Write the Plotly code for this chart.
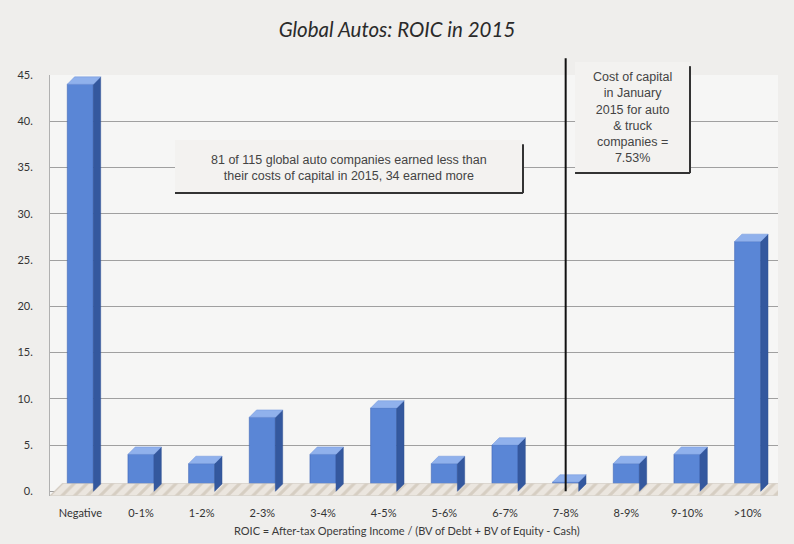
import plotly.graph_objects as go

categories = ["Negative", "0-1%", "1-2%", "2-3%", "3-4%", "4-5%", "5-6%", "6-7%", "7-8%", "8-9%", "9-10%", ">10%"]
counts = [44, 4, 3, 8, 4, 9, 3, 5, 1, 3, 4, 27]
y_tick_vals = [0, 5, 10, 15, 20, 25, 30, 35, 40, 45]
y_tick_text = ["0.", "5.", "10.", "15.", "20.", "25.", "30.", "35.", "40.", "45."]
cost_of_capital_bin = 8  # index of "7-8%"

xs = list(range(len(categories)))
half = 0.215   # half width of front face
dx, dy = 0.12, 0.8  # 3D depth offset

# side & top faces of the 3D bars, derived from the data
side_x, side_y, top_x, top_y = [], [], [], []
for i, v in zip(xs, counts):
    side_x += [i + half, i + half + dx, i + half + dx, i + half, i + half, None]
    side_y += [0, dy, v + dy, v, 0, None]
    top_x += [i - half, i + half, i + half + dx, i - half + dx, i - half, None]
    top_y += [v, v, v + dy, v + dy, v, None]

fig = go.Figure()

# floor
fig.add_trace(go.Scatter(
    x=[-0.5, 11.5, 11.75, -0.3, -0.5], y=[-0.45, -0.45, 0.85, 0.85, -0.45],
    fill="toself", mode="lines", line=dict(width=0.5, color="#c9c1b6"),
    fillcolor="#e6dfd6",
    fillpattern=dict(shape="/", fgcolor="#c2b6a6", bgcolor="#ebe6df", size=9, solidity=0.35),
    hoverinfo="skip", showlegend=False))

fig.add_trace(go.Scatter(x=side_x, y=side_y, fill="toself", mode="lines",
                         line=dict(width=0.5, color="#2c4f92"), fillcolor="#34589e",
                         hoverinfo="skip", showlegend=False))
fig.add_trace(go.Scatter(x=top_x, y=top_y, fill="toself", mode="lines",
                         line=dict(width=0.5, color="#6f95dc"), fillcolor="#90b1ec",
                         hoverinfo="skip", showlegend=False))
fig.add_trace(go.Bar(x=xs, y=counts, width=2 * half,
                     marker=dict(color="#5a86d6", line=dict(color="#3f67b5", width=0.6)),
                     showlegend=False))

shapes = []
# cost of capital vertical line
shapes.append(dict(type="line", xref="x", yref="paper", x0=cost_of_capital_bin, x1=cost_of_capital_bin,
                   y0=0.011, y1=1.04, line=dict(color="#111111", width=2), layer="above"))
# annotation boxes (fill + shadow lines on right and bottom)
boxes = [(0.1717, 0.6497, 0.7195, 0.8455), (0.7212, 0.8791, 0.767, 1.031)]
for x0, x1, y0, y1 in boxes:
    shapes.append(dict(type="rect", xref="paper", yref="paper", x0=x0, x1=x1, y0=y0, y1=y1,
                       fillcolor="#f3f2f0", line=dict(width=0), layer="above"))
    shapes.append(dict(type="line", xref="paper", yref="paper", x0=x1, x1=x1, y0=y0, y1=y1 - 0.01,
                       line=dict(color="#333333", width=2), layer="above"))
    shapes.append(dict(type="line", xref="paper", yref="paper", x0=x0, x1=x1, y0=y0, y1=y0,
                       line=dict(color="#333333", width=2), layer="above"))

annotations = [
    dict(xref="paper", yref="paper", x=0.4107, y=0.7787, xanchor="center", yanchor="middle",
         showarrow=False,
         text="81 of 115 global auto companies earned less than<br>their costs of capital in 2015, 34 earned more",
         font=dict(family="Liberation Sans, Arial", size=12.5, color="#444444"), align="center"),
    dict(xref="paper", yref="paper", x=0.8, y=0.9, xanchor="center", yanchor="middle",
         showarrow=False,
         text="Cost of capital<br>in January<br>2015 for auto<br>& truck<br>companies =<br>7.53%",
         font=dict(family="Liberation Sans, Arial", size=12.5, color="#444444"), align="center"),
    dict(xref="paper", yref="paper", x=0.49, y=-0.082, xanchor="center", yanchor="middle",
         showarrow=False,
         text="ROIC = After-tax Operating Income / (BV of Debt + BV of Equity - Cash)",
         font=dict(family="Lato, Liberation Sans", size=11, color="#3a3a3a")),
]

fig.update_layout(
    width=794, height=544,
    margin=dict(l=50, r=16, t=75, b=48),
    paper_bgcolor="#efeeec",
    plot_bgcolor="#f6f6f5",
    barmode="overlay",
    title=dict(text="<i>Global Autos: ROIC in 2015</i>", x=0.5, xanchor="center",
               y=1 - 30 / 544, yref="container", yanchor="middle",
               font=dict(family="Lato, Open Sans", size=20.5, color="#2a2a2a")),
    xaxis=dict(range=[-0.5, 11.5], tickvals=xs, ticktext=categories, showgrid=False,
               zeroline=False, showline=False, ticks="", ticklabelstandoff=9,
               tickfont=dict(family="Lato, Liberation Sans", size=11, color="#333333")),
    yaxis=dict(range=[-0.5, 45], tickvals=y_tick_vals, ticktext=y_tick_text,
               showgrid=True, gridcolor="#a0a0a0", gridwidth=1, zeroline=False,
               showline=True, linecolor="#b0b0b0", ticks="", ticklabelstandoff=14,
               tickfont=dict(family="Lato, Liberation Sans", size=11, color="#333333")),
    shapes=shapes,
    annotations=annotations,
)

fig.write_html("out.html")
